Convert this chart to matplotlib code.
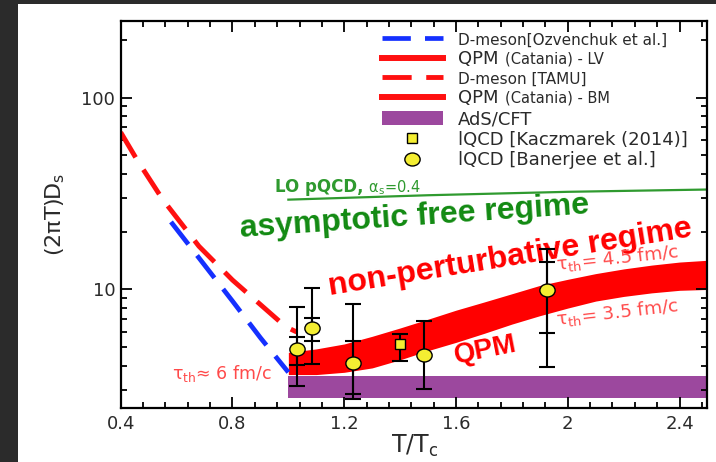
import numpy as np
import matplotlib
matplotlib.use("Agg")
import matplotlib.pyplot as plt
from matplotlib.lines import Line2D
from matplotlib.patches import Patch, Rectangle
from matplotlib.markers import MarkerStyle
from matplotlib.transforms import Affine2D
from matplotlib.ticker import FixedLocator, MultipleLocator, LogLocator, NullFormatter

# D-meson [TAMU] (red dashed)
tamu_t = [0.40, 0.46, 0.55, 0.68, 0.80, 0.91, 0.99, 1.03]
tamu_d = [66.0, 47.0, 29.5, 16.8, 11.2, 8.1, 6.4, 6.0]

# D-meson [Ozvenchuk et al.] (blue dashed)
ozv_t = [0.58, 0.70, 0.80, 0.90, 1.00]
ozv_d = [22.5, 13.4, 8.7, 5.6, 3.7]

# QPM (Catania) band
qpm_t = [1.0, 1.1, 1.2, 1.3, 1.4, 1.5, 1.6, 1.7, 1.8, 1.9, 2.0, 2.1, 2.2, 2.3, 2.4, 2.5]
qpm_lo = [3.6, 3.6, 3.7, 3.9, 4.3, 4.8, 5.3, 5.9, 6.6, 7.3, 8.0, 8.7, 9.2, 9.6, 9.9, 10.0]
qpm_hi = [4.7, 4.9, 5.2, 5.7, 6.3, 7.0, 7.8, 8.6, 9.5, 10.5, 11.3, 12.1, 12.8, 13.4, 13.9, 14.2]

# AdS/CFT band
ads_t = [1.0, 2.5]
ads_lo = [2.72, 2.72]
ads_hi = [3.53, 3.53]

# LO pQCD, alpha_s = 0.4
pqcd_t = [1.0, 1.5, 2.0, 2.5]
pqcd_d = [29.4, 31.0, 32.3, 33.2]

# lQCD [Banerjee et al.]
ban_t = [1.032, 1.084, 1.231, 1.487, 1.925]
ban_d = [4.87, 6.31, 4.12, 4.58, 9.92]
ban_lo = [3.15, 4.08, 2.70, 3.03, 3.95]
ban_hi = [8.06, 10.2, 8.36, 6.86, 16.2]
ban_in_t = [1.032, 1.084, 1.231, 1.925]
ban_in_d = [4.87, 6.31, 4.12, 9.92]
ban_in_lo = [4.04, 5.38, 2.84, 5.9]
ban_in_hi = [5.66, 7.1, 5.38, 13.9]

# lQCD [Kaczmarek (2014)]
kac_t = [1.40]
kac_d = [5.17]
kac_lo = [4.24]
kac_hi = [5.83]

xticks = [0.4, 0.8, 1.2, 1.6, 2.0, 2.4]
xticklabels = ['0.4', '0.8', '1.2', '1.6', '2', '2.4']
yticks = [10, 100]
yticklabels = ['10', '100']

purple = '#9c489e'
yellow = '#f4ee32'
txt = '#2a2a2a'

fig = plt.figure(figsize=(7.16, 4.62), dpi=100)
fig.patch.set_facecolor('#2b2b2b')
fig.add_artist(Rectangle((18/716, 0), 1, (462-3.5)/462, transform=fig.transFigure,
                         facecolor='white', edgecolor='none', zorder=-10))
ax = fig.add_axes([120.7/716, (462-408)/462, 586.8/716, 387.3/462])

ax.fill_between(ads_t, ads_lo, ads_hi, color=purple, lw=0, zorder=1)
ax.fill_between(qpm_t, qpm_lo, qpm_hi, color='#ff0000', lw=0, zorder=1.5)
h_ozv, = ax.plot(ozv_t, ozv_d, color='#1530ff', lw=3.4, dashes=(6.0, 3.0), zorder=2)
h_tamu, = ax.plot(tamu_t, tamu_d, color='#ff1010', lw=3.5, dashes=(6.0, 3.0), zorder=2.2)
ax.plot(pqcd_t, pqcd_d, color='#2f9a2f', lw=1.6, zorder=2)

ell = MarkerStyle('o', transform=Affine2D().scale(1.0, 0.85))
ban_d_a = np.array(ban_d)
ax.errorbar(ban_t, ban_d, yerr=[ban_d_a - np.array(ban_lo), np.array(ban_hi) - ban_d_a],
            fmt='none', ecolor='k', elinewidth=1.5, capsize=5.5, capthick=1.5, zorder=4)
ax.errorbar(ban_in_t, ban_in_d,
            yerr=[np.array(ban_in_d) - np.array(ban_in_lo), np.array(ban_in_hi) - np.array(ban_in_d)],
            fmt='none', ecolor='k', elinewidth=1.5, capsize=5.5, capthick=1.5, zorder=4)
ax.errorbar(kac_t, kac_d, yerr=[np.array(kac_d) - np.array(kac_lo), np.array(kac_hi) - np.array(kac_d)],
            fmt='none', ecolor='k', elinewidth=1.5, capsize=5.5, capthick=1.5, zorder=4)
ax.plot(ban_t, ban_d, ls='none', marker=ell, ms=11, mfc=yellow, mec='k', mew=1.0, zorder=5)
ax.plot(kac_t, kac_d, ls='none', marker='s', ms=7, mfc=yellow, mec='k', mew=1.0, zorder=5)

ax.set_xlim(0.4, 2.5)
ax.set_yscale('log')
ax.set_ylim(2.41, 252)
ax.set_xticks(xticks)
ax.set_xticklabels(xticklabels)
ax.xaxis.set_minor_locator(MultipleLocator(0.08))
ax.yaxis.set_major_locator(FixedLocator(yticks))
ax.set_yticklabels(yticklabels)
ax.yaxis.set_minor_locator(LogLocator(base=10, subs=range(2, 10)))
ax.yaxis.set_minor_formatter(NullFormatter())
ax.tick_params(which='both', direction='in', top=True, right=True, width=1.3,
               labelsize=13, labelcolor=txt)
ax.tick_params(which='major', length=8)
ax.tick_params(which='minor', length=4.5)
ax.tick_params(axis='y', pad=4)
ax.tick_params(axis='x', pad=5)
for s in ax.spines.values():
    s.set_linewidth(1.6)

ax.set_xlabel('T/T$_\\mathregular{c}$', fontsize=17, color=txt, labelpad=0)
ax.set_ylabel('(2πT)D$_\\mathregular{s}$', fontsize=16, color=txt, labelpad=10)

# legend
h_lv = Line2D([], [], color='#ff1010', lw=4.3)
h_bm = Line2D([], [], color='#ff1010', lw=4.3)
h_ads = Patch(facecolor=purple, edgecolor='none')
h_kac = Line2D([], [], ls='none', marker='s', ms=7, mfc=yellow, mec='k', mew=1.0)
h_ban = Line2D([], [], ls='none', marker=ell, ms=11, mfc=yellow, mec='k', mew=1.0)
labels = ['D-meson[Ozvenchuk et al.]', 'QPM', 'D-meson [TAMU]', 'QPM', 'AdS/CFT',
          'lQCD [Kaczmarek (2014)]', 'lQCD [Banerjee et al.]']
leg = ax.legend([h_ozv, h_lv, h_tamu, h_bm, h_ads, h_kac, h_ban], labels,
                loc='upper left', bbox_to_anchor=(0.4448, 0.9705), frameon=False,
                fontsize=12, borderpad=0, borderaxespad=0, handlelength=3.66,
                handleheight=0.9, handletextpad=0.9, labelspacing=0.16, labelcolor=txt)
for t, fs in zip(leg.get_texts(), [11, 13, 11, 13, 13, 13, 13]):
    t.set_fontsize(fs)
for i, extra in [(1, '(Catania) - LV'), (3, '(Catania) - BM')]:
    ax.annotate(extra, xy=(1, 0.12), xycoords=leg.get_texts()[i], xytext=(5, 0),
                textcoords='offset points', fontsize=10.5, color=txt, va='bottom', zorder=10)

# annotations
lo = ax.text(0.263, 0.5585, 'LO pQCD,', transform=ax.transAxes, fontsize=12, fontweight='bold',
             color='#2f9a2f', ha='left', va='baseline')
ax.annotate(' α$_\\mathregular{s}$=0.4', xy=(1, 0), xycoords=lo, xytext=(0, 2.8),
            textcoords='offset points', fontsize=10.5, color='#2f9a2f', va='baseline', zorder=10)
ax.text(0.204, 0.4423, 'asymptotic free regime', transform=ax.transAxes, rotation=3.9,
        rotation_mode='anchor', ha='left', va='baseline', fontsize=23, fontweight='bold',
        family='Liberation Sans', color='#128a12')
ax.text(0.3567, 0.2918, 'non-perturbative regime', transform=ax.transAxes, rotation=9.2,
        rotation_mode='anchor', ha='left', va='baseline', fontsize=23, fontweight='bold',
        family='Liberation Sans', color='#ff0000')
ax.text(0.5714, 0.1162, 'QPM', transform=ax.transAxes, rotation=11,
        rotation_mode='anchor', ha='left', va='baseline', fontsize=20, fontweight='bold',
        family='Liberation Sans', color='#ff0000')
tau_col = '#ff4a4a'
ax.text(0.0869, 0.0741, 'τ$_\\mathregular{th}$≈ 6 fm/c', transform=ax.transAxes,
        ha='left', va='baseline', fontsize=12.5, color=tau_col)
ax.text(0.743, 0.356, 'τ$_\\mathregular{th}$= 4.5 fm/c', transform=ax.transAxes, rotation=6,
        rotation_mode='anchor', ha='left', va='baseline', fontsize=13.3, color=tau_col)
ax.text(0.743, 0.2143, 'τ$_\\mathregular{th}$= 3.5 fm/c', transform=ax.transAxes, rotation=6.5,
        rotation_mode='anchor', ha='left', va='baseline', fontsize=13.3, color=tau_col)

fig.savefig('out.png', dpi=100, facecolor=fig.get_facecolor())
